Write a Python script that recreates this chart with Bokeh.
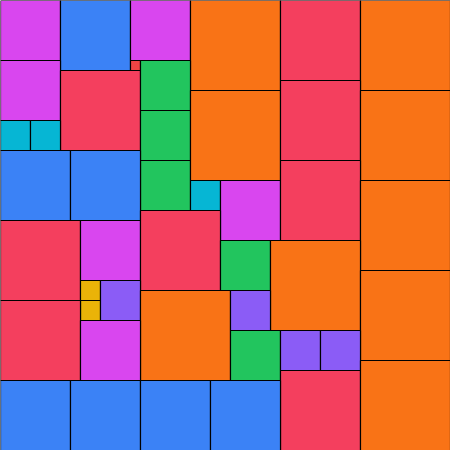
from bokeh.plotting import figure
from bokeh.models import Range1d, ColumnDataSource
from bokeh.embed import file_html
from bokeh.resources import INLINE

# Square packing: left edge, top edge, side length, group
sq_x = [0, 60, 130, 190, 280, 360,
        0, 60, 130, 140, 140, 140, 190, 280, 360,
        0, 30, 0, 70, 190, 220, 280, 360,
        0, 80, 140, 220, 270, 80, 80, 100,
        140, 230, 360, 0, 80, 230, 280, 320, 280, 360,
        0, 70, 140, 210]
sq_y = [0, 0, 0, 0, 0, 0,
        60, 70, 60, 60, 110, 160, 90, 80, 90,
        120, 120, 150, 150, 180, 180, 160, 180,
        220, 220, 210, 240, 240, 280, 300, 280,
        290, 290, 270, 300, 320, 330, 330, 330, 370, 360,
        380, 380, 380, 380]
sq_size = [60, 70, 60, 90, 80, 90,
           60, 80, 10, 50, 50, 50, 90, 80, 90,
           30, 30, 70, 70, 30, 60, 80, 90,
           80, 60, 80, 50, 90, 20, 20, 40,
           90, 40, 90, 80, 60, 50, 40, 40, 80, 90,
           70, 70, 70, 70]

palette = {
    10: "#ef4444",
    20: "#eab308",
    30: "#06b6d4",
    40: "#8b5cf6",
    50: "#22c55e",
    60: "#d946ef",
    70: "#3b82f6",
    80: "#f43f5e",
    90: "#f97316",
}

src = ColumnDataSource(dict(
    left=sq_x,
    right=[a + s for a, s in zip(sq_x, sq_size)],
    top=sq_y,
    bottom=[b + s for b, s in zip(sq_y, sq_size)],
    color=[palette[s] for s in sq_size],
))

p = figure(width=450, height=450, output_backend="svg", toolbar_location=None,
           x_range=Range1d(0, 450), y_range=Range1d(450, 0),
           min_border=0, outline_line_color=None)
p.axis.visible = False
p.grid.visible = False
p.background_fill_color = "white"
p.border_fill_color = "white"

p.quad(left="left", right="right", top="top", bottom="bottom", source=src,
       fill_color="color", line_color="black", line_width=1.2)

html = file_html(p, INLINE)
html = html.replace("</head>", "<style>html,body{margin:0;padding:0;overflow:hidden}</style></head>", 1)
open("out.html", "w").write(html)
